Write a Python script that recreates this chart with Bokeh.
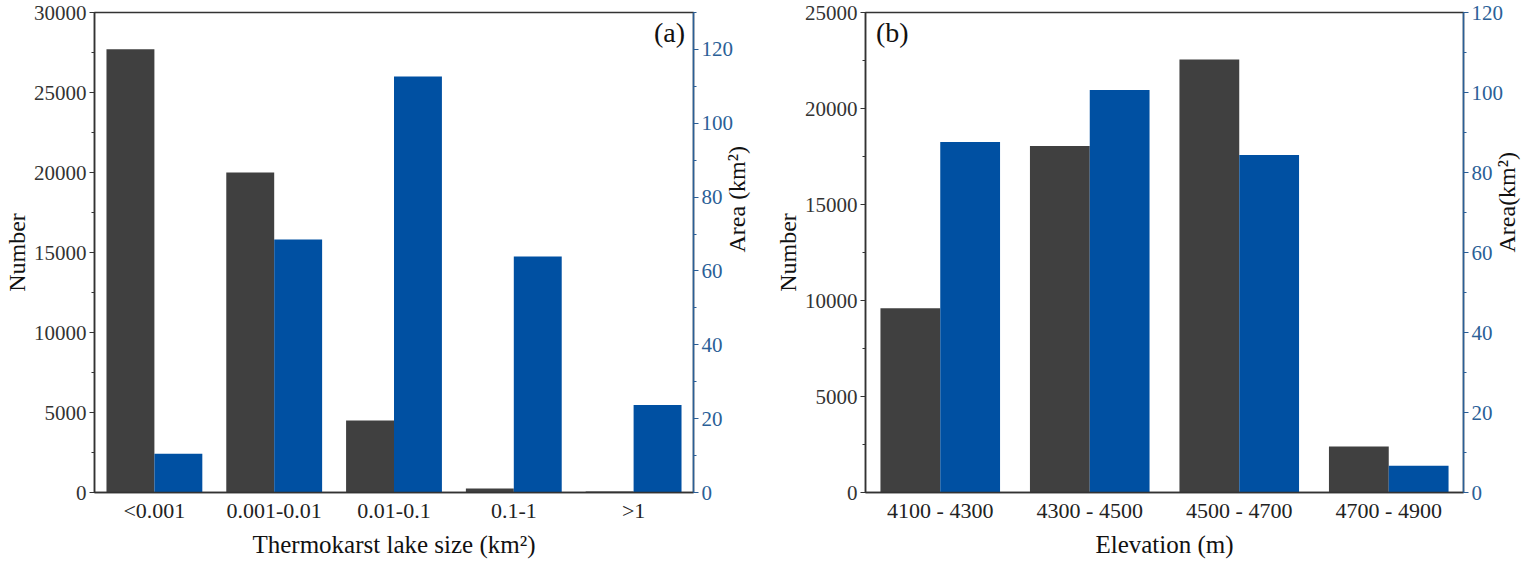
import math
from bokeh.plotting import figure
from bokeh.models import (FactorRange, Range1d, LinearAxis, SingleIntervalTicker,
                          ColumnDataSource, Label)
from bokeh.transform import dodge
from bokeh.layouts import row
from bokeh.embed import file_html
from bokeh.resources import INLINE

# ---- data ----
size_classes = ["<0.001", "0.001-0.01", "0.01-0.1", "0.1-1", ">1"]
size_number = [27700, 20000, 4500, 250, 60]
size_area = [10.5, 68.5, 112.7, 63.9, 23.7]

elev_classes = ["4100 - 4300", "4300 - 4500", "4500 - 4700", "4700 - 4900"]
elev_number = [9600, 18050, 22550, 2390]
elev_area = [87.6, 100.6, 84.4, 6.7]

GRAY = "#404040"
BLUE = "#0050A2"
AXBLUE = "#2B5F97"
AXGRAY = "#333333"
FONT = "Liberation Serif"
TICK_FS = "21px"
LABEL_FS = "24px"


def style_axis(a, color, label_color):
    a.axis_line_color = color
    a.axis_line_width = 1.5
    a.major_tick_line_color = color
    a.minor_tick_line_color = color
    a.major_tick_out = 5
    a.major_tick_in = 0
    a.minor_tick_out = 3
    a.minor_tick_in = 0
    a.major_label_text_font = FONT
    a.major_label_text_font_size = TICK_FS
    a.major_label_text_color = label_color
    a.major_label_standoff = 3
    a.axis_label_text_font = FONT
    a.axis_label_text_font_size = LABEL_FS
    a.axis_label_text_font_style = "normal"
    a.axis_label_text_color = "#111111"
    a.axis_label_standoff = 1


def make_panel(cats, num, area, ymax, ystep, amax, astep, xlabel, alabel, tag,
               width, border_left, border_right, tag_x, tag_align):
    p = figure(x_range=FactorRange(*cats), y_range=Range1d(0, ymax),
               width=width, height=560, output_backend="svg",
               toolbar_location=None, min_border_left=border_left,
               min_border_right=border_right, min_border_top=12,
               min_border_bottom=68)
    p.extra_y_ranges = {"area": Range1d(0, amax)}
    src = ColumnDataSource(dict(cat=cats, num=num, area=area))
    p.vbar(x=dodge("cat", -0.2, range=p.x_range), top="num", width=0.4,
           source=src, color=GRAY, line_color=None)
    p.vbar(x=dodge("cat", 0.2, range=p.x_range), top="area", width=0.4,
           source=src, color=BLUE, line_color=None, y_range_name="area")

    p.grid.visible = False
    p.background_fill_color = "white"
    p.border_fill_color = "white"
    p.outline_line_color = AXGRAY
    p.outline_line_width = 1.5

    ya = p.yaxis[0]
    ya.ticker = SingleIntervalTicker(interval=ystep, num_minor_ticks=2)
    ya.axis_label = "Number"
    style_axis(ya, AXGRAY, "#333333")

    ra = LinearAxis(y_range_name="area",
                    ticker=SingleIntervalTicker(interval=astep, num_minor_ticks=2),
                    axis_label=alabel)
    style_axis(ra, AXBLUE, AXBLUE)
    ra.axis_label_orientation = math.pi / 2
    p.add_layout(ra, "right")

    xa = p.xaxis[0]
    xa.axis_label = xlabel
    style_axis(xa, AXGRAY, "#222222")
    xa.major_tick_line_color = None
    xa.minor_tick_line_color = None
    xa.major_tick_out = 0
    xa.major_label_text_font_size = "22px"
    xa.axis_label_text_font_size = "25px"
    xa.major_label_standoff = 5
    xa.axis_label_standoff = 5

    lab = Label(x=tag_x, y=ymax * 0.99, text=tag, text_font=FONT,
                text_font_size="28px", text_align=tag_align,
                text_baseline="top", text_color="#111111")
    p.add_layout(lab)
    return p


pa = make_panel(size_classes, size_number, size_area, 30000, 5000, 130, 20,
                "Thermokarst lake size (km\u00b2)", "Area (km\u00b2)", "(a)",
                766, 94, 66, len(size_classes) - 0.07, "right")
pb = make_panel(elev_classes, elev_number, elev_area, 25000, 5000, 120, 20,
                "Elevation (m)", "Area(km\u00b2)", "(b)",
                770, 99, 71, 0.07, "left")

layout = row(pa, pb)
open("out.html", "w").write(file_html(layout, INLINE))
